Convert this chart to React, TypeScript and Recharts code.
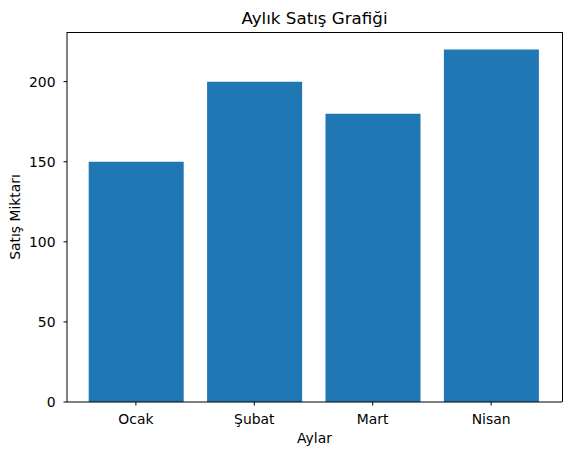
import { Bar, BarChart, XAxis, YAxis } from "recharts";

const months = ["Ocak", "Şubat", "Mart", "Nisan"];
const sales = [150, 200, 180, 220];
const yTicks = [0, 50, 100, 150, 200];

const data = months.map((month, i) => ({ month, sales: sales[i] }));

const font = "'DejaVu Sans', sans-serif";
const tickStyle = { fill: "#000", fontSize: 13.9, fontFamily: font };

// plot box (matplotlib-like frame)
const plotLeft = 67;
const plotTop = 32;
const plotRight = 562;
const plotBottom = 402;

export default function App() {
  return (
    <div style={{ position: "absolute", left: 0, top: 0, width: 571, height: 455, background: "#fff" }}>
      <div
        style={{
          position: "absolute",
          left: plotLeft,
          width: plotRight - plotLeft,
          top: 8,
          textAlign: "center",
          fontFamily: font,
          fontSize: 16.7,
          color: "#000",
        }}
      >
        Aylık Satış Grafiği
      </div>
      <BarChart
        width={571}
        height={455}
        data={data}
        margin={{ top: plotTop, right: 571 - plotRight, left: 0, bottom: 0 }}
        barSize={95}
      >
        <XAxis
          dataKey="month"
          height={455 - plotBottom}
          padding={{ left: 9.7, right: 11.7 }}
          stroke="#000"
          tickSize={3.5}
          tickMargin={9}
          tick={tickStyle}
          label={{ value: "Aylar", position: "insideBottom", offset: 12, fill: "#000", fontSize: 13.9, fontFamily: font }}
        />
        <YAxis
          domain={[0, 231]}
          ticks={yTicks}
          width={plotLeft}
          stroke="#000"
          tickSize={3.5}
          tickMargin={8}
          tick={tickStyle}
          label={{
            value: "Satış Miktarı",
            angle: -90,
            position: "insideLeft",
            offset: 15,
            style: { textAnchor: "middle" },
            fill: "#000",
            fontSize: 13.9,
            fontFamily: font,
          }}
        />
        <Bar dataKey="sales" fill="#1f77b4" isAnimationActive={false} />
      </BarChart>
      <div
        style={{
          position: "absolute",
          left: plotLeft,
          top: plotTop - 0.5,
          width: plotRight - plotLeft + 0.5,
          height: plotBottom - plotTop,
          boxSizing: "border-box",
          borderTop: "1px solid #000",
          borderRight: "1px solid #000",
          pointerEvents: "none",
        }}
      />
    </div>
  );
}
